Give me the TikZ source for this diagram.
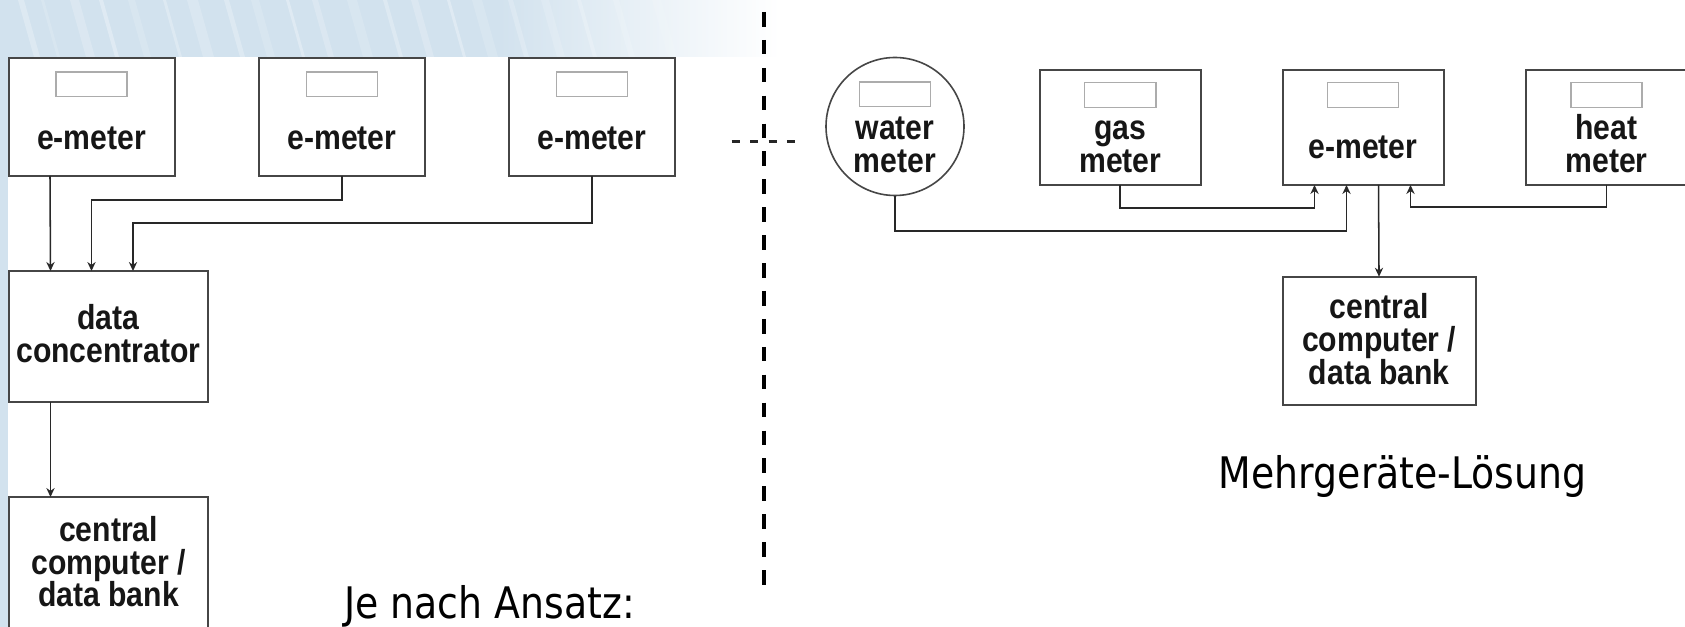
\documentclass[tikz,border=0pt]{standalone}
\usepackage{fontspec}
\usetikzlibrary{arrows.meta,calc}
\newfontfamily\lblfont{Liberation Sans}[FakeStretch=0.87]
\newfontfamily\capfont{DejaVu Sans}[FakeStretch=0.87]
\definecolor{bgblue}{RGB}{210,226,238}
\definecolor{boxgray}{RGB}{70,70,70}
\definecolor{dispgray}{RGB}{172,172,172}
\definecolor{linegray}{RGB}{40,40,40}
\definecolor{labelblack}{RGB}{22,22,22}

\begin{document}
\begin{tikzpicture}[x=0.75pt,y=-0.75pt,
  box/.style={draw=boxgray, line width=1.5pt, fill=white, inner sep=0pt, outer sep=0pt},
  disp/.style={draw=dispgray, line width=1.1pt, fill=white, inner sep=0pt,
    minimum width=53.5pt, minimum height=18.4pt},
  lbl/.style={font={\lblfont\bfseries\fontsize{26}{24.4}\selectfont}, align=center,
    inner sep=0pt, anchor=base, text=labelblack},
  conn/.style={draw=linegray, line width=1.15pt, -{Stealth[length=6.75pt,width=6.2pt]}},
  captext/.style={font={\capfont\fontsize{32.6}{39}\selectfont}, inner sep=0pt, anchor=base west},
  sepline/.style={draw=black, line width=2.8pt, dash pattern=on 10.95pt off 9.975pt},
  sepstub/.style={draw=black!85, line width=2.4pt, dash pattern=on 6.2pt off 7.6pt}]

\useasboundingbox (0,0) rectangle (1685,627);
\clip (0,0) rectangle (1685,627);

% page background with the pale blue border band
\fill[white] (0,0) rectangle (1685,627);
\begin{scope}
  \clip (0,0) rectangle (780,57);
  \fill[bgblue] (0,0) rectangle (500,57);
  \shade[left color=bgblue, right color=white] (499,0) rectangle (780,57);
  \foreach \a/\w/\o in {18/6/.25,41/3/.15,70/9/.2,99/4/.3,128/7/.15,163/3/.25,187/11/.18,
                        224/5/.25,251/8/.15,286/3/.3,312/6/.2,347/10/.15,383/4/.25,
                        411/7/.2,447/3/.3,472/10/.15,508/5/.2,541/8/.15,577/4/.2,613/6/.15,652/9/.1}
    \fill[white,opacity=\o] (\a,0) -- (\a+\w,0) -- (\a+\w+16,57) -- (\a+16,57) -- cycle;
\end{scope}
\fill[bgblue] (0,57) rectangle (8,627);

% ---------- left: meters via data concentrator ----------
\node[box, minimum width=124.5pt, minimum height=88.5pt] (l1) at (91.5,117) {};
\node[box, minimum width=124.5pt, minimum height=88.5pt] (l2) at (342,117) {};
\node[box, minimum width=124.5pt, minimum height=88.5pt] (l3) at (592,117) {};
\node[disp] (l1d) at ($(l1.north)+(0,26.5)$) {};
\node[disp] (l2d) at ($(l2.north)+(0,26.5)$) {};
\node[disp] (l3d) at ($(l3.north)+(0,26.5)$) {};
\node[lbl] (l1t) at (91.5,150) {e-meter};
\node[lbl] (l2t) at (342,150) {e-meter};
\node[lbl] (l3t) at (592,150) {e-meter};

\node[box, minimum width=149.25pt, minimum height=98.25pt] (conc) at (108.5,336.5) {};
\node[lbl] (conct) at (108.5,362.5) {data\\concentrator};

\node[box, minimum width=149.25pt, minimum height=99.75pt] (cenL) at (108.5,563.5) {};
\node[lbl] (cenLt) at (108.5,606.7) {central\\computer /\\data bank};

\draw[conn] ($(l1.south west)+(41.5,0)$) -- ($(conc.north west)+(41.5,0)$);
\draw[conn] (l2.south) -- ++(0,24) -| ($(conc.north west)+(82.5,0)$);
\draw[conn] (l3.south) -- ++(0,47) -| ($(conc.north west)+(124,0)$);
\draw[conn] ($(conc.south west)+(41.5,0)$) -- ($(cenL.north west)+(41.5,0)$);

\node[captext] (leftcap) at (344,618) {Je nach Ansatz:};

% ---------- separator ----------
\coordinate (sepTop) at (764,12);
\coordinate (sepBot) at (764,590);
\draw[sepline] (sepTop) -- (sepBot);
\coordinate (stubL) at (731.7,141.7);
\coordinate (stubR) at (796,141.7);
\draw[sepstub] (stubL) -- (stubR);

% ---------- right: several meters on one e-meter ----------
\node[circle, draw=boxgray, line width=1.2pt, fill=white, inner sep=0pt,
      minimum size=103.5pt] (water) at (895,126.5) {};
\node[disp] (waterd) at ($(water.north)+(0,37.5)$) {};
\node[lbl] (watert) at (895,172.5) {water\\meter};

\node[box, minimum width=120.4pt, minimum height=86.6pt] (gas) at (1120.25,127.25) {};
\node[disp] (gasd) at ($(gas.north)+(0,25.5)$) {};
\node[lbl] (gast) at (1120.25,172.5) {gas\\meter};

\node[box, minimum width=120.75pt, minimum height=86.6pt] (emr) at (1363,127.25) {};
\node[disp] (emrd) at ($(emr.north)+(0,25.5)$) {};
\node[lbl] (emrt) at (1363,159) {e-meter};

\node[box, minimum width=120.75pt, minimum height=86.6pt] (heat) at (1606.5,127.25) {};
\node[disp] (heatd) at ($(heat.north)+(0,25.5)$) {};
\node[lbl] (heatt) at (1606.5,172.5) {heat\\meter};

\node[box, minimum width=145pt, minimum height=96.2pt] (cenR) at (1379.3,340.85) {};
\node[lbl] (cenRt) at (1379.3,384) {central\\computer /\\data bank};

\draw[conn] (gas.south) -- ++(0,23) -| ($(emr.south west)+(32,0)$);
\draw[conn] (water.south) -- ++(0,34.5) -| ($(emr.south west)+(64,0)$);
\draw[conn] (heat.south) -- ++(0,22) -| ($(emr.south west)+(128,0)$);
\draw[conn] ($(emr.south west)+(96,0)$) -- ($(cenR.north west)+(96.4,0)$);

\node[captext] (rightcap) at (1218.7,488.3) {Mehrgeräte-Lösung};
\end{tikzpicture}
\end{document}
